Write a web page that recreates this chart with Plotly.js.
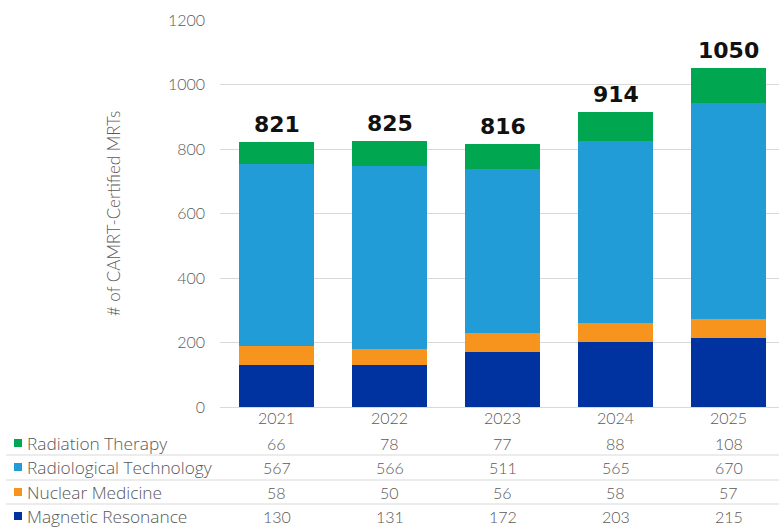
<!DOCTYPE html>
<html><head><meta charset="utf-8">
<script src="https://cdn.plot.ly/plotly-3.0.1.min.js"></script>
<style>html,body{margin:0;padding:0;background:#fff}#chart{width:779px;height:527px}</style>
</head><body><div id="chart"></div>
<script>
const years = ["2021","2022","2023","2024","2025"];
const magneticResonance = [130,131,172,203,215];
const nuclearMedicine = [58,50,56,58,57];
const radiologicalTech = [567,566,511,565,670];
const radiationTherapy = [66,78,77,88,108];
const totals = [821,825,816,914,1050];
const seriesNames = ["Radiation Therapy","Radiological Technology","Nuclear Medicine","Magnetic Resonance"];
const yTitle = "# of CAMRT-Certified MRTs";

(function(){
const colors = {
  "Magnetic Resonance":"#0033A0",
  "Nuclear Medicine":"#F7941D",
  "Radiological Technology":"#219CD6",
  "Radiation Therapy":"#00A650"
};
const valuesBy = {
  "Magnetic Resonance":magneticResonance,
  "Nuclear Medicine":nuclearMedicine,
  "Radiological Technology":radiologicalTech,
  "Radiation Therapy":radiationTherapy
};
const stackOrder = ["Magnetic Resonance","Nuclear Medicine","Radiological Technology","Radiation Therapy"];
const traces = stackOrder.map(n => ({
  type:"bar", x:years, y:valuesBy[n], name:n,
  marker:{color:colors[n], line:{width:0}}, hoverinfo:"x+y+name"
}));

const FONT = "Lato, 'Open Sans', sans-serif";
const FONT2 = "'Open Sans', Lato, sans-serif";
const TXT = "#595959";
const W8 = 300;
const mL=220, W=779, plotW=W-mL, mT=20, plotH=387;
const px2paperX = p => (p-mL)/plotW;
const py2paperY = p => (mT+plotH-p)/plotH;

const annotations = [];
const shapes = [];
years.forEach((yr,i)=>{
  annotations.push({x:i, y:totals[i], xref:"x", yref:"y", text:"<b>"+totals[i]+"</b>",
    showarrow:false, yanchor:"bottom", yshift:3,
    font:{family:"'DejaVu Sans', Lato, sans-serif", size:22, color:"#111"}});
});
const rowY = [443,467,492,516];
seriesNames.forEach((n,r)=>{
  const yp = py2paperY(rowY[r]);
  annotations.push({x:px2paperX(25), y:yp, xref:"paper", yref:"paper", text:n,
    showarrow:false, xanchor:"left", yanchor:"middle",
    font:{family:FONT2, size:17.3, color:TXT, weight:W8}});
  shapes.push({type:"rect", xref:"paper", yref:"paper",
    x0:px2paperX(14), x1:px2paperX(22), y0:py2paperY(rowY[r]+4), y1:py2paperY(rowY[r]-4),
    fillcolor:colors[n], line:{width:0}});
  years.forEach((yr,i)=>{
    annotations.push({x:i, y:yp, xref:"x", yref:"paper", text:String(valuesBy[n][i]),
      showarrow:false, xanchor:"center", yanchor:"middle",
      font:{family:FONT, size:16, color:TXT, weight:W8}});
  });
});
[455,480,504].forEach(p=>{
  shapes.push({type:"line", xref:"paper", yref:"paper", x0:px2paperX(6), x1:1,
    y0:py2paperY(p), y1:py2paperY(p), line:{color:"#d9d9d9", width:1}});
});

const layout = {
  width:779, height:527, barmode:"stack", bargap:0.34, showlegend:false,
  margin:{l:mL, r:0, t:mT, b:527-mT-plotH, pad:0},
  paper_bgcolor:"#fff", plot_bgcolor:"#fff",
  xaxis:{type:"category", range:[-0.5, -0.5+plotW/113], showgrid:false, showline:false, zeroline:false,
    ticks:"", tickfont:{family:FONT, size:16, color:TXT, weight:W8}, fixedrange:true},
  yaxis:{range:[0,1200], dtick:200, showgrid:true, gridcolor:"#d9d9d9", gridwidth:1,
    zeroline:true, zerolinecolor:"#d9d9d9", showline:false, ticks:"", ticklabelstandoff:14,
    tickfont:{family:FONT, size:16, color:TXT, weight:W8},
    title:{text:yTitle, standoff:42, font:{family:FONT, size:17, color:TXT, weight:W8}}, automargin:false},
  annotations, shapes, font:{family:FONT}
};
Plotly.newPlot("chart", traces, layout, {displayModeBar:false, staticPlot:true});
})();
</script></body></html>
